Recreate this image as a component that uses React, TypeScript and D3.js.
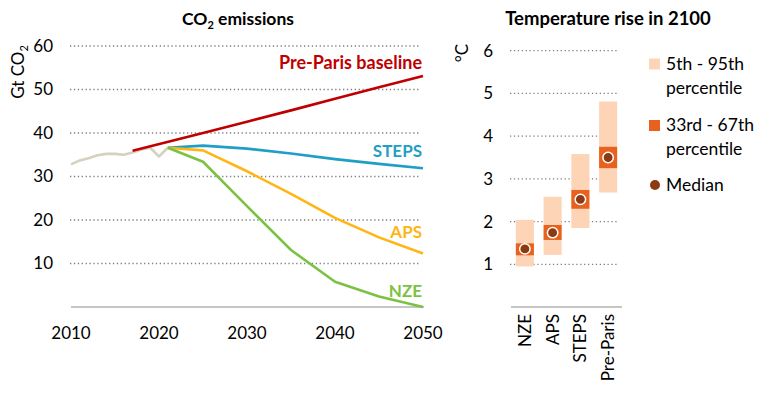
import React from 'react';
import * as d3 from 'd3';

// CO2 emissions (Gt CO2)
const histYears = [2010, 2011, 2012, 2013, 2014, 2015, 2016, 2017, 2018, 2019, 2020, 2021];
const histValues = [32.8, 33.7, 34.2, 34.9, 35.2, 35.2, 35.0, 35.5, 36.2, 36.6, 34.6, 36.6];

const baselineYears = [2017, 2025, 2030, 2035, 2040, 2045, 2050];
const baselineValues = [35.9, 40.0, 42.6, 45.2, 47.9, 50.5, 53.1];

const scenarioYears = [2021, 2025, 2030, 2035, 2040, 2045, 2050];
const stepsValues = [36.6, 37.1, 36.4, 35.3, 34.0, 32.9, 31.9];
const apsValues = [36.6, 36.0, 31.2, 26.0, 20.5, 16.0, 12.3];
const nzeValues = [36.6, 33.4, 23.2, 13.1, 5.8, 2.4, 0];

const yearTicks = [2010, 2020, 2030, 2040, 2050];
const co2Ticks = [10, 20, 30, 40, 50, 60];

// Temperature rise in 2100 (°C)
const tempCats = ['NZE', 'APS', 'STEPS', 'Pre-Paris'];
const p5 = [0.95, 1.22, 1.85, 2.68];
const p95 = [2.04, 2.58, 3.58, 4.81];
const p33 = [1.21, 1.57, 2.3, 3.25];
const p67 = [1.49, 1.92, 2.74, 3.75];
const medians = [1.36, 1.74, 2.52, 3.5];
const tempTicks = [1, 2, 3, 4, 5, 6];

const FONT = 'Lato, "Open Sans", sans-serif';
const C = {
  hist: '#d6d0c0',
  base: '#c00000',
  steps: '#1f9fc6',
  aps: '#ffb515',
  nze: '#7cc242',
  light: '#fdd4b6',
  dark: '#e8611e',
  med: '#8b3a12',
  grid: '#7f7f7f',
  axis: '#8c8c8c',
};

const App: React.FC = () => {
  const x = d3.scaleLinear().domain([2010, 2050]).range([71, 423]);
  const y = d3.scaleLinear().domain([0, 60]).range([307, 46]);
  const line = d3.line<[number, number]>().x(d => x(d[0])).y(d => y(d[1]));
  const pts = (xs: number[], vs: number[]) => xs.map((v, i) => [v, vs[i]] as [number, number]);

  const xb = d3.scaleBand().domain(tempCats).range([511, 622]).paddingInner(0.35).paddingOuter(0.175);
  const yt = d3.scaleLinear().domain([0, 6]).range([307, 50.7]);

  const series = [
    { vals: stepsValues, color: C.steps, label: 'STEPS', ly: 151 },
    { vals: apsValues, color: C.aps, label: 'APS', ly: 232 },
    { vals: nzeValues, color: C.nze, label: 'NZE', ly: 291 },
  ];

  return (
    <svg width={780} height={398} style={{ position: 'absolute', left: 0, top: 0, background: '#fff' }} fontFamily={FONT}>
      {/* left panel */}
      <text x={238} y={25} textAnchor="middle" fontSize={17.5} fontWeight="bold" fill="#000">
        CO<tspan fontSize={11} dy={4}>2</tspan><tspan dy={-4}> emissions</tspan>
      </text>
      <text transform="translate(24,72) rotate(-90)" textAnchor="middle" fontSize={17} fill="#000">
        Gt CO<tspan fontSize={11} dy={4}>2</tspan>
      </text>
      {co2Ticks.map(t => (
        <g key={t}>
          <line x1={70} x2={421} y1={y(t)} y2={y(t)} stroke={C.grid} strokeWidth={1.3} strokeDasharray="1.3,2.6" />
          <text x={53} y={y(t)} dy="0.35em" textAnchor="end" fontSize={17} fill="#000">{t}</text>
        </g>
      ))}
      <line x1={71} x2={424} y1={y(0)} y2={y(0)} stroke={C.axis} strokeWidth={1} />
      {yearTicks.map(t => (
        <text key={t} x={x(t)} y={339} textAnchor="middle" fontSize={17} fill="#000">{t}</text>
      ))}
      <path d={line(pts(histYears, histValues)) || ''} fill="none" stroke={C.hist} strokeWidth={2.6} strokeLinejoin="round" />
      <path d={line(pts(baselineYears, baselineValues)) || ''} fill="none" stroke={C.base} strokeWidth={2.6} />
      {series.map(s => (
        <path key={s.label} d={line(pts(scenarioYears, s.vals)) || ''} fill="none" stroke={s.color} strokeWidth={2.6} strokeLinejoin="round" />
      ))}
      <text x={422} y={63} dy="0.35em" textAnchor="end" fontSize={18} fontWeight="bold" fill={C.base}>Pre-Paris baseline</text>
      {series.map(s => (
        <text key={s.label} x={422} y={s.ly} dy="0.35em" textAnchor="end" fontSize={17} fontWeight="bold" fill={s.color}>{s.label}</text>
      ))}

      {/* right panel */}
      <text x={608} y={25} textAnchor="middle" fontSize={18.5} fontWeight="bold" fill="#000">Temperature rise in 2100</text>
      <text transform="translate(468,53) rotate(-90)" textAnchor="middle" fontSize={17} fill="#000">°C</text>
      {tempTicks.map(t => (
        <g key={t}>
          <line x1={510} x2={618} y1={yt(t)} y2={yt(t)} stroke={C.grid} strokeWidth={1.3} strokeDasharray="1.3,2.6" />
          <text x={493} y={yt(t)} dy="0.35em" textAnchor="end" fontSize={17} fill="#000">{t}</text>
        </g>
      ))}
      <line x1={511} x2={622} y1={yt(0)} y2={yt(0)} stroke={C.axis} strokeWidth={1} />
      {tempCats.map((c, i) => {
        const bx = xb(c) || 0;
        const bw = xb.bandwidth();
        return (
          <g key={c}>
            <rect x={bx} width={bw} y={yt(p95[i])} height={yt(p5[i]) - yt(p95[i])} fill={C.light} />
            <rect x={bx} width={bw} y={yt(p67[i])} height={yt(p33[i]) - yt(p67[i])} fill={C.dark} />
            <circle cx={bx + bw / 2} cy={yt(medians[i])} r={5.2} fill={C.med} stroke="#fff" strokeWidth={1.5} />
            <text transform={`translate(${bx + bw / 2},314) rotate(-90)`} dy="0.35em" textAnchor="end" fontSize={17} fill="#000">{c}</text>
          </g>
        );
      })}
      {/* legend */}
      <rect x={649} y={58.5} width={11} height={11} fill={C.light} />
      <text x={666} y={64} dy="0.35em" fontSize={17.5} fill="#000">5th - 95th</text>
      <text x={666} y={88} dy="0.35em" fontSize={17.5} fill="#000">percentile</text>
      <rect x={649} y={120} width={11} height={11} fill={C.dark} />
      <text x={666} y={125} dy="0.35em" fontSize={17.5} fill="#000">33rd - 67th</text>
      <text x={666} y={149} dy="0.35em" fontSize={17.5} fill="#000">percentile</text>
      <circle cx={655} cy={185} r={5} fill={C.med} />
      <text x={666} y={185} dy="0.35em" fontSize={17.5} fill="#000">Median</text>
    </svg>
  );
};

export default App;
